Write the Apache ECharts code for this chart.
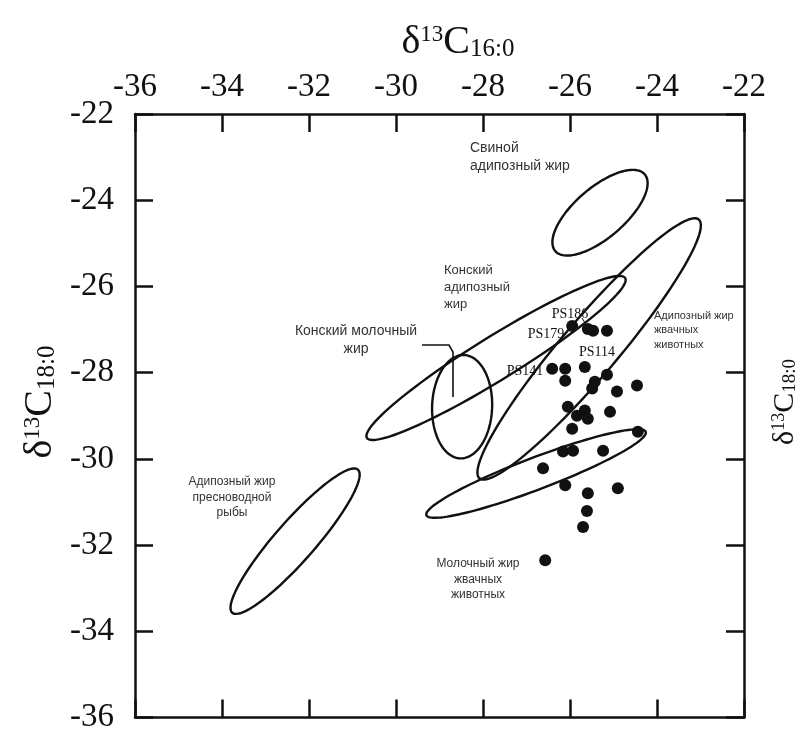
<!DOCTYPE html>
<html><head><meta charset="utf-8">
<script src="https://cdn.jsdelivr.net/npm/echarts@6/dist/echarts.min.js"></script>
<style>html,body{margin:0;padding:0;background:#fff}#c{width:808px;height:734px}</style>
</head><body><div id="c"></div>
<script>
// Axis range / ticks
const axisMin = -36, axisMax = -22, axisStep = 2;

// Ellipses (confidence regions of reference fats)
const ellipseNames = ['Свиной адипозный жир', 'Конский адипозный жир', 'Конский молочный жир',
  'Адипозный жир жвачных животных', 'Молочный жир жвачных животных', 'Адипозный жир пресноводной рыбы'];
const ellipseCenterX = [-25.31, -27.70, -28.48, -25.56, -26.78, -32.32];
const ellipseCenterY = [-24.29, -27.66, -28.79, -27.45, -30.34, -31.91];
const ellipseSemiMajor = [1.36, 3.50, 1.20, 3.92, 2.70, 2.20];
const ellipseSemiMinor = [0.58, 0.50, 0.69, 0.65, 0.37, 0.46];
const ellipseAngleDeg = [41, 32, 88, 50, 21, 49];

// Archaeological samples
const sampleX = [-25.95, -25.59, -25.47, -25.15, -26.41, -26.11, -25.66, -26.11, -25.15, -25.43,
  -25.49, -24.46, -24.92, -26.05, -25.66, -25.84, -25.59, -25.08, -25.95, -24.44,
  -26.16, -25.93, -25.24, -26.62, -26.11, -25.59, -24.90, -25.61, -25.70, -26.57];
const sampleY = [-26.92, -26.99, -27.03, -27.03, -27.91, -27.91, -27.87, -28.19, -28.05, -28.21,
  -28.37, -28.30, -28.44, -28.79, -28.88, -29.00, -29.07, -28.91, -29.30, -29.37,
  -29.83, -29.81, -29.81, -30.22, -30.61, -30.80, -30.68, -31.21, -31.58, -32.35];

const chart = echarts.init(document.getElementById('c'), null, {renderer: 'canvas'});

const serif = '"Liberation Serif","DejaVu Serif",serif';
const sans = '"Liberation Sans","DejaVu Sans",sans-serif';

const ellipseData = ellipseCenterX.map((cx, i) => [cx, ellipseCenterY[i], ellipseSemiMajor[i], ellipseSemiMinor[i], ellipseAngleDeg[i]]);
const pointData = sampleX.map((x, i) => [x, sampleY[i]]);

function renderEllipse(params, api) {
  const cx = api.value(0), cy = api.value(1), a = api.value(2), b = api.value(3);
  const th = api.value(4) * Math.PI / 180;
  const pts = [];
  const n = 120;
  for (let k = 0; k < n; k++) {
    const t = 2 * Math.PI * k / n;
    const dx = a * Math.cos(t), dy = b * Math.sin(t);
    pts.push(api.coord([cx + dx * Math.cos(th) - dy * Math.sin(th), cy + dx * Math.sin(th) + dy * Math.cos(th)]));
  }
  return {type: 'polygon', shape: {points: pts}, style: {fill: 'none', stroke: '#111', lineWidth: 2.4}};
}

const axisCommon = {
  type: 'value', min: axisMin, max: axisMax, interval: axisStep,
  splitLine: {show: false},
  axisLine: {show: true, onZero: false, lineStyle: {color: '#111', width: 2.5}},
  axisTick: {show: true, inside: true, length: 18, lineStyle: {color: '#111', width: 2.5}}
};

function annot(lines, x, y, align, size, font, extra, color) {
  return Object.assign({
    type: 'text', x: x, y: y,
    style: {text: lines, font: (size) + 'px ' + font, fill: color || '#333', align: align, verticalAlign: 'top', lineHeight: size * 1.3}
  }, extra || {});
}

const option = {
  backgroundColor: '#fff',
  animation: false,
  grid: {left: 135, top: 114, right: 64, bottom: 14, containLabel: false},
  xAxis: [
    Object.assign({}, axisCommon, {position: 'top',
      axisLabel: {show: true, fontFamily: serif, fontSize: 33, color: '#111', margin: 10}}),
    Object.assign({}, axisCommon, {position: 'bottom', axisLabel: {show: false}})
  ],
  yAxis: [
    Object.assign({}, axisCommon, {position: 'left',
      axisLabel: {show: true, fontFamily: serif, fontSize: 33, color: '#111', margin: 21}}),
    Object.assign({}, axisCommon, {position: 'right', axisLabel: {show: false}})
  ],
  series: [
    {type: 'custom', name: 'ellipses', xAxisIndex: 0, yAxisIndex: 0, data: ellipseData,
      renderItem: renderEllipse, encode: {x: 0, y: 1}, silent: true},
    {type: 'scatter', name: 'samples', xAxisIndex: 0, yAxisIndex: 0, data: pointData,
      symbol: 'circle', symbolSize: 12, itemStyle: {color: '#111', opacity: 1}}
  ],
  graphic: [
    {type: 'text', x: 458, y: 42, style: {
      text: '{d|δ}{sup|13}{d|C}{sub|16:0}', align: 'center', verticalAlign: 'middle',
      rich: {
        d: {fontFamily: serif, fontSize: 40, fill: '#111'},
        sup: {fontFamily: serif, fontSize: 23, fill: '#111', padding: [0, 0, 15, 0]},
        sub: {fontFamily: serif, fontSize: 25, fill: '#111', padding: [15, 0, 0, 0]}
      }}},
    {type: 'text', x: 40, y: 402, rotation: Math.PI / 2, style: {
      text: '{d|δ}{sup|13}{d|C}{sub|18:0}', align: 'center', verticalAlign: 'middle',
      rich: {
        d: {fontFamily: serif, fontSize: 40, fill: '#111'},
        sup: {fontFamily: serif, fontSize: 23, fill: '#111', padding: [0, 0, 15, 0]},
        sub: {fontFamily: serif, fontSize: 25, fill: '#111', padding: [15, 0, 0, 0]}
      }}},
    {type: 'text', x: 785, y: 402, rotation: Math.PI / 2, style: {
      text: '{d|δ}{sup|13}{d|C}{sub|18:0}', align: 'center', verticalAlign: 'middle',
      rich: {
        d: {fontFamily: serif, fontSize: 30, fill: '#111'},
        sup: {fontFamily: serif, fontSize: 18, fill: '#111', padding: [0, 0, 11, 0]},
        sub: {fontFamily: serif, fontSize: 19, fill: '#111', padding: [11, 0, 0, 0]}
      }}},
    annot('Свиной\nадипозный жир', 470, 139, 'left', 14, sans),
    annot('Конский\nадипозный\nжир', 444, 262, 'left', 13, sans),
    annot('Конский молочный\nжир', 356, 322, 'center', 14, sans),
    annot('Адипозный жир\nжвачных\nживотных', 654, 309, 'left', 11, sans),
    annot('Адипозный жир\nпресноводной\nрыбы', 232, 474, 'center', 12, sans),
    annot('Молочный жир\nжвачных\nживотных', 478, 556, 'center', 12, sans),
    annot('PS186', 570, 305, 'center', 14, serif, null, '#111'),
    annot('PS179', 546, 325, 'center', 14, serif, null, '#111'),
    annot('PS114', 597, 343, 'center', 14, serif, null, '#111'),
    annot('PS141', 525, 362, 'center', 14, serif, null, '#111'),
    {type: 'polyline', shape: {points: [[422, 345], [449, 345], [453, 352], [453, 397]]},
      style: {stroke: '#111', lineWidth: 1.6, fill: 'none'}},
    {type: 'line', shape: {x1: 582, y1: 318, x2: 587, y2: 326}, style: {stroke: '#111', lineWidth: 1}}
  ]
};
chart.setOption(option);
</script>
</body></html>
